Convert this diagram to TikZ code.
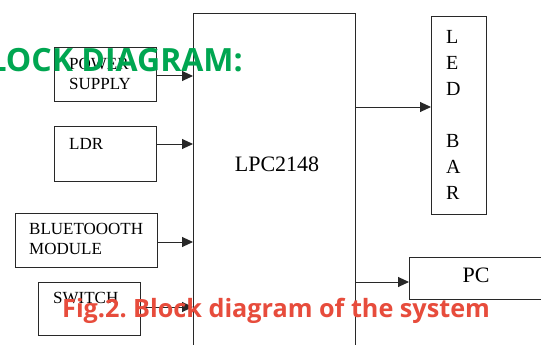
\documentclass[tikz,border=0pt]{standalone}
\usepackage{fontspec}
\setmainfont{Liberation Serif}
\newfontfamily\titlefont{Open Sans}
\usetikzlibrary{arrows.meta,calc}
\definecolor{titlegreen}{RGB}{0,166,81}
\definecolor{captionred}{RGB}{231,76,60}
\definecolor{linegray}{RGB}{40,40,40}
\begin{document}
\begin{tikzpicture}[x=1pt,y=-1pt,
 blk/.style={draw=linegray,line width=1pt,anchor=north west,inner sep=0pt},
 lbl/.style={anchor=north west,inner sep=0pt,font=\fontsize{17}{20}\selectfont,align=left},
 big/.style={inner sep=0pt,font=\fontsize{22}{24}\selectfont},
 arr/.style={draw=linegray,line width=1pt,-{Triangle[length=11pt,width=10pt]}},
 overlay text/.style={inner sep=0pt,font=\titlefont\bfseries}]
\useasboundingbox (0,0) rectangle (541,345);
\clip (0,0) rectangle (541,345);
\fill[white] (0,0) rectangle (541,345);
% blocks
\node[blk,minimum width=162pt,minimum height=360pt] (lpc) at (193,13) {};
\node[blk,minimum width=102pt,minimum height=54pt] (ps) at (54,47) {};
\node[blk,minimum width=102pt,minimum height=55pt] (ldr) at (54,126) {};
\node[blk,minimum width=142pt,minimum height=54pt] (bt) at (15,213) {};
\node[blk,minimum width=102pt,minimum height=53pt] (sw) at (38,282) {};
\node[blk,minimum width=55pt,minimum height=198pt] (led) at (431,16) {};
\node[blk,minimum width=160pt,minimum height=42pt] (pc) at (409,257) {};
% texts
\node[lbl] (pst) at (69,58) {POWER\\SUPPLY};
\node[lbl] (ldrt) at (69,138) {LDR};
\node[lbl] (btt) at (29,223) {BLUETOOOTH\\MODULE};
\node[lbl] (swt) at (53,292) {SWITCH};
\node[big] (lpct) at (277,164) {LPC2148};
\node[big] (pct) at (476,275) {PC};
\node[anchor=north west,inner sep=0pt,align=left,font=\fontsize{20}{26}\selectfont] (ledt) at (446,30) {L\\E\\D\\[26pt]B\\A\\R};
% connectors
\coordinate (ledin) at ($(led.north west)+(0,91)$);
\coordinate (pcin) at ($(pc.north west)+(0,25)$);
\draw[arr] ([yshift=-29pt]ps.north east) -- ([yshift=-29pt]ps.north east -| lpc.west);
\draw[arr] ([yshift=-18pt]ldr.north east) -- ([yshift=-18pt]ldr.north east -| lpc.west);
\draw[arr] ([yshift=-29pt]bt.north east) -- ([yshift=-29pt]bt.north east -| lpc.west);
\draw[arr] ([yshift=-25pt]sw.north east) -- ([yshift=-25pt]sw.north east -| lpc.west);
\draw[arr] (lpc.east |- ledin) -- (ledin);
\draw[arr] (lpc.east |- pcin) -- (pcin);
% overlaid headings
\node[overlay text,text=titlegreen,anchor=base east,font=\titlefont\bfseries\fontsize{32}{34}\selectfont] (title) at (243,71) {BLOCK DIAGRAM:};
\node[overlay text,text=captionred,anchor=base west,font=\titlefont\bfseries\fontsize{25.2}{27}\selectfont] (caption) at (62,317) {Fig.2.\ Block diagram of the system};
\end{tikzpicture}
\end{document}
